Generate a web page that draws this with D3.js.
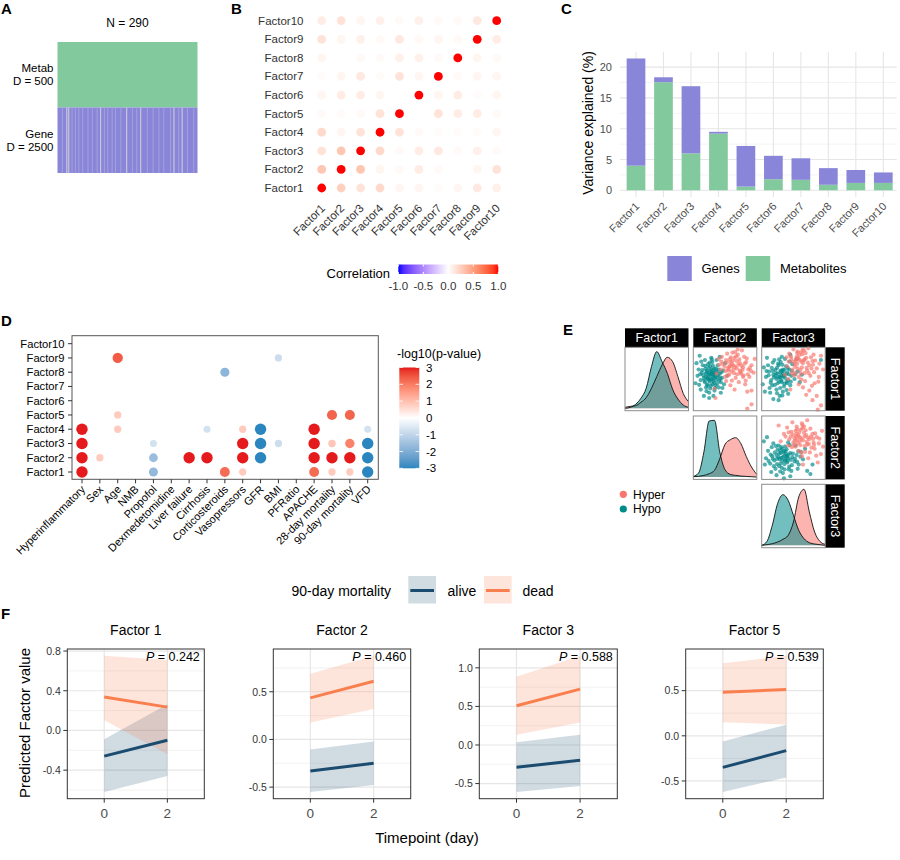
<!DOCTYPE html>
<html><head><meta charset="utf-8">
<script src="https://cdn.jsdelivr.net/npm/d3@7"></script>
<style>body{margin:0;background:#fff} svg{font-family:"Liberation Sans",Arial,Helvetica,sans-serif}</style>
</head><body><svg id="fig" width="900" height="860"></svg>
<script>
// ================= DATA =================
// Panel A
const aSampleCount = 290;
const aViews = ["Metab", "Gene"];
const aDims = [500, 2500];
const aGeneGapsFaint = [9,29,36,43,51,62,71,81,96,103,112,119,130,154,163,185,197,209,219,233,250,268,281];
const aGeneGapsLight = [18,22,88,142,171,240,257];

// Panel B
const factorNames = ["Factor1","Factor2","Factor3","Factor4","Factor5","Factor6","Factor7","Factor8","Factor9","Factor10"];
const corrRows = [
  [1,0.25,0.15,0.2,0.05,0.05,0.02,0.05,0.12,0.08],
  [0.3,1,0.3,0.05,0.03,0.1,0.03,0,0.05,0.15],
  [0.15,0.3,1,0.2,0.03,0.1,0.12,0.03,0.08,0.03],
  [0.2,0.05,0.15,1,0.15,0.03,0.02,0.02,0.02,0.05],
  [0.03,0.02,0.03,0.15,1,0,0.15,0.1,0.1,0.03],
  [0.05,0.1,0.1,0.05,0,1,0.05,0.1,0.02,0.05],
  [0.02,0.05,0.12,0.02,0.15,0.05,1,0.03,0.05,0.05],
  [0.05,0,0.03,0.03,0.08,0.08,0.03,1,0.05,0.03],
  [0.15,0.05,0.08,0.03,0.12,0.03,0.05,0.03,1,0.1],
  [0.1,0.15,0.05,0.08,0.03,0.08,0.03,0.03,0.12,1]
];
const corrTicks = [-1,-0.5,0,0.5,1];

// Panel C
const varGenes = [17.4,0.8,10.9,0.3,6.6,3.8,3.5,2.7,2.1,1.7];
const varMetab = [4.0,17.55,6.0,9.2,0.6,1.8,1.7,0.9,1.2,1.2];
const varTicks = [0,5,10,15,20];
const varKeys = ["Genes","Metabolites"];

// Panel D
const dCovariates = ["Hyperinflammatory","Sex","Age","NMB","Propofol","Dexmedetomidine","Liver failure","Cirrhosis","Corticosteroids","Vasopressors","GFR","BMI","PFRatio","APACHE","28-day mortality","90-day mortality","VFD"];
const dAssoc = [
 ["Factor1","Hyperinflammatory",3],["Factor1","Propofol",-1.7],["Factor1","Corticosteroids",2.2],["Factor1","Vasopressors",0.8],["Factor1","APACHE",2.2],["Factor1","28-day mortality",0.8],["Factor1","90-day mortality",0.8],["Factor1","VFD",-3],
 ["Factor2","Hyperinflammatory",3],["Factor2","Sex",0.8],["Factor2","Propofol",-1.6],["Factor2","Liver failure",3],["Factor2","Cirrhosis",3],["Factor2","Vasopressors",3],["Factor2","GFR",-3],["Factor2","APACHE",3],["Factor2","28-day mortality",3],["Factor2","90-day mortality",3],["Factor2","VFD",-3],
 ["Factor3","Hyperinflammatory",3],["Factor3","Propofol",-0.7],["Factor3","Vasopressors",3],["Factor3","GFR",-3],["Factor3","BMI",-0.8],["Factor3","APACHE",3],["Factor3","28-day mortality",0.9],["Factor3","90-day mortality",1.9],["Factor3","VFD",-3],
 ["Factor4","Hyperinflammatory",3],["Factor4","Age",0.8],["Factor4","Cirrhosis",-0.7],["Factor4","Vasopressors",0.8],["Factor4","GFR",-3],["Factor4","APACHE",3],["Factor4","VFD",-0.7],
 ["Factor5","Age",0.8],["Factor5","28-day mortality",2.3],["Factor5","90-day mortality",2.3],
 ["Factor8","Corticosteroids",-1.8],
 ["Factor9","Age",2.4],["Factor9","BMI",-0.8]
];
const dTicks = [3,2,1,0,-1,-2,-3];

// Panel E
const eFactors = ["Factor1","Factor2","Factor3"];
const eGroups = ["Hyper","Hypo"];
const eGrid = [-3,-2.5,-2,-1.5,-1,-0.5,0,0.5,1,1.5,2,2.5,3];
const eDensHyper = [
 [0.03,0.06,0.08,0.18,0.32,0.6,0.95,1.3,1.53,1.4,0.95,0.45,0.2],
 [0.01,0.02,0.05,0.1,0.2,0.55,0.98,1.12,1.18,1.0,0.62,0.3,0.08],
 [0,0.02,0.05,0.1,0.18,0.3,0.7,1.45,1.68,1.0,0.4,0.12,0.03]
];
const eDensHypo = [
 [0,0.03,0.12,0.3,0.6,1.25,1.7,1.4,1.05,0.57,0.28,0.1,0.03],
 [0.02,0.12,0.75,1.68,1.7,0.75,0.22,0.08,0.05,0.03,0.02,0.01,0],
 [0,0.12,0.6,1.25,1.52,1.35,0.9,0.45,0.2,0.08,0.04,0.02,0]
];
// scatter points [x, y]: (Factor2 vs Factor1), (Factor3 vs Factor1), (Factor3 vs Factor2)
const eHypo12 = [[-1.4,0.4],[-1.2,0.6],[-1.6,0.2],[-1.0,0.3],[-1.8,0.5],[-1.3,0.9],[-1.5,-0.1],[-0.9,0.7],[-2.0,0.1],[-1.1,-0.2],[-1.7,0.8],[-0.7,0.2],[-1.4,1.2],[-2.2,0.6],[-1.2,-0.5],[-0.8,-0.1],[-1.9,-0.3],[-1.0,1.0],[-1.6,1.4],[-0.5,0.5],[-2.3,-0.1],[-1.3,0.0],[-0.6,0.9],[-1.5,0.6],[-1.1,0.4],[-2.5,0.9],[-0.9,-0.6],[-1.8,-0.8],[-0.4,-0.3],[-1.4,-0.9],[-2.1,1.3],[-0.7,1.3],[-1.2,1.6],[-0.3,0.1],[-1.7,-0.5],[-2.6,0.3],[-1.0,-1.1],[-0.6,-0.8],[-1.5,-1.3],[-2.3,-1.0],[-0.2,0.8],[-1.9,1.8],[-0.8,1.8],[-2.7,1.5],[-1.3,2.0],[-0.1,-0.5],[-2.0,-1.6],[-1.1,-1.6],[-0.4,-1.3],[-2.8,-0.4],[0.2,0.3],[-1.6,0.0],[-1.0,0.1],[-1.3,0.5],[-1.8,0.2],[-0.9,0.5],[0.0,1.5],[-2.4,2.2],[-0.5,2.1],[-1.5,-1.8],
 [-1.25,0.25],[-1.55,0.45],[-1.35,0.75],[-1.05,0.55],[-1.65,0.05],[-1.15,0.85],[-1.45,-0.25],[-0.95,0.15],[-1.75,0.65],[-1.25,-0.05],[-1.85,0.95],[-0.85,0.95],[-2.05,0.35],[-1.55,1.05],[-1.05,-0.35],[-1.95,-0.15],[-0.65,0.35],[-1.35,-0.65],[-2.15,0.85],[-0.75,-0.45],[-1.65,-0.65],[-1.15,1.25],[-0.45,0.05],[-2.35,0.45],[-1.45,1.55],[-0.55,-0.15],[-1.85,1.25],[-0.95,-0.85],[-2.45,-0.55],[-0.35,0.65],[-1.25,1.85],[-1.75,-1.15],[-0.25,-0.85],[-2.25,1.65],[-0.75,0.65]];
const eHyper12 = [[0.8,1.3],[0.5,1.6],[1.1,1.0],[0.3,1.1],[1.4,1.5],[0.9,2.0],[0.6,0.7],[1.7,1.1],[0.1,1.8],[1.2,2.3],[0.4,0.4],[2.0,1.6],[-0.2,1.4],[1.5,0.5],[0.7,2.5],[-0.4,0.9],[2.2,0.9],[1.0,0.1],[0.2,2.4],[1.8,2.1],[-0.6,1.9],[2.5,1.3],[1.3,-0.3],[0.0,0.2],[2.3,0.2],[0.5,-0.6],[1.6,2.7],[-0.8,0.5],[2.7,0.6],[1.9,-0.5],[0.9,-1.0],[2.1,-1.2],[2.5,-1.1],[2.1,-2.8],[2.5,-2.4],[0.6,1.2],[1.1,1.7],[0.3,0.8],[1.4,0.8],[-0.3,2.1],[2.8,1.9],[1.2,2.8],[0.1,-0.2],[1.7,0.2],[0.8,0.9],[-0.9,-1.8],[-1.0,-0.9],
 [0.65,1.45],[0.95,1.15],[0.45,1.25],[1.25,1.35],[0.75,1.75],[0.35,0.95],[1.55,1.25],[1.05,2.15],[0.15,1.55],[1.45,0.65],[0.85,0.55],[1.85,1.45],[-0.05,1.15],[1.15,0.45],[0.55,2.05],[2.05,1.95],[0.25,0.35],[1.65,0.85],[-0.35,1.65],[2.35,1.05],[0.95,2.55],[1.35,1.85],[0.45,1.85],[1.75,0.35],[0.05,0.75],[2.15,0.45],[0.65,-0.15],[1.95,-0.15],[2.45,0.75],[-0.55,1.35]];
const eHypo13 = [[-1.3,0.2],[-1.0,0.5],[-1.6,0.0],[-0.8,0.1],[-1.9,0.4],[-1.2,0.8],[-1.5,-0.4],[-0.6,0.6],[-2.1,-0.1],[-1.1,-0.3],[-1.7,0.9],[-0.5,-0.1],[-1.4,1.3],[-2.3,0.7],[-0.9,-0.7],[-0.4,0.9],[-2.0,-0.6],[-1.2,1.6],[-0.2,0.3],[-2.6,0.2],[-1.6,-1.0],[-0.7,1.2],[-1.0,-1.2],[-2.4,1.3],[-0.3,-0.6],[-1.8,1.8],[-2.8,1.1],[-0.1,1.4],[-1.3,-1.6],[-2.2,-1.3],[0.1,0.0],[-0.8,1.9],[-1.9,-1.9],[-0.5,-1.4],[-2.9,-0.5],[0.4,0.7],[-1.1,2.1],[0.6,-0.3],[-2.5,2.0],[-1.5,0.5],[-1.2,0.1],[-0.9,0.3],[-1.7,0.3],[-0.6,-0.4],[0.3,1.9],[-1.4,-2.0],[-2.7,-1.2],[0.8,0.4],[-0.3,2.3],[-1.0,0.9],[2.6,1.8],
 [-1.15,0.35],[-1.45,0.15],[-1.25,0.65],[-0.95,0.25],[-1.65,0.55],[-1.05,0.75],[-1.35,-0.25],[-0.75,0.45],[-1.85,0.15],[-1.15,-0.15],[-1.55,1.05],[-0.65,-0.25],[-1.95,0.75],[-1.45,1.45],[-0.85,-0.45],[-2.15,-0.35],[-0.45,0.45],[-1.25,-0.85],[-2.05,1.05],[-0.55,1.05],[-1.75,-0.55],[-1.05,1.35],[-0.25,-0.25],[-2.35,0.35],[-1.55,-1.35],[-0.85,0.85],[-2.25,-0.85],[-0.15,0.75],[-1.35,1.85],[-0.65,-1.05],[-1.95,1.55],[-2.55,0.75],[0.15,0.45],[-1.05,-1.55],[-0.35,1.65]];
const eHyper13 = [[0.6,1.8],[0.3,2.1],[0.9,1.5],[0.1,1.4],[1.2,2.0],[0.7,2.5],[0.4,1.0],[1.5,1.3],[-0.2,1.9],[1.0,2.7],[0.2,0.6],[1.8,1.7],[-0.4,2.4],[1.3,0.8],[0.8,1.1],[-0.6,1.2],[1.9,2.3],[0.5,0.2],[1.6,0.3],[-0.1,0.9],[2.2,1.0],[1.1,-0.2],[0.0,2.8],[2.0,-0.4],[0.9,-0.8],[2.4,0.2],[1.5,-1.1],[2.2,-1.6],[2.6,-2.5],[2.3,-2.9],[1.8,-2.0],[-0.8,0.4],[0.4,2.6],[1.4,2.9],[2.6,2.2],[0.7,0.5],[1.0,1.8],[0.2,1.7],[1.7,1.0],[-0.5,0.0],[2.8,0.9],[0.5,-0.5],[1.2,-1.5],[-0.3,-1.0],
 [0.45,1.95],[0.75,1.65],[0.25,1.85],[1.05,1.85],[0.55,2.25],[0.15,1.15],[1.35,1.55],[0.85,2.35],[-0.05,1.65],[1.25,1.05],[0.65,0.85],[1.65,2.05],[-0.25,2.15],[1.05,0.55],[0.35,2.45],[1.85,1.35],[0.05,0.35],[1.45,0.55],[-0.45,1.65],[2.05,1.75],[0.85,2.75],[1.15,2.45],[0.35,1.45],[1.95,0.65],[-0.15,0.55],[2.45,1.45],[0.75,-0.05],[1.75,-0.65],[2.35,-0.25],[-0.65,2.05]];
const eHypo23 = [[-1.0,-0.9],[-0.7,-0.6],[-1.3,-1.1],[-0.5,-1.0],[-1.6,-0.7],[-0.9,-0.3],[-1.2,-1.5],[-0.3,-0.5],[-1.8,-1.2],[-0.6,-1.4],[-1.5,-0.2],[-0.1,-0.9],[-2.0,-0.8],[-1.1,-1.9],[-0.4,-1.8],[-2.2,-1.5],[-0.8,0.1],[0.1,-1.3],[-1.7,-2.0],[-1.4,0.2],[-2.4,-0.3],[0.3,-0.7],[-0.2,-2.2],[-1.0,-2.4],[0.5,-1.6],[-2.6,-1.0],[-1.9,0.4],[0.7,-0.4],[-0.5,0.5],[-2.8,0.6],[-2.5,1.0],[0.9,-1.1],[-1.6,-2.6],[-0.3,-2.7],[1.3,-2.2],[1.6,-2.5],[-2.1,-2.3],[0.2,0.2],[-1.2,-0.5],[-0.8,-1.2],[-1.4,-0.9],[-0.6,-0.8],[-1.1,-0.1],[0.4,-2.0],[1.1,-0.1],[-2.7,-1.6],[-0.9,-2.9],[1.8,-1.6],
 [-0.85,-0.75],[-1.15,-0.95],[-0.95,-0.45],[-0.65,-0.85],[-1.35,-0.55],[-0.75,-1.15],[-1.05,-1.25],[-0.45,-0.65],[-1.55,-1.05],[-0.85,-1.55],[-1.25,-0.25],[-0.25,-1.15],[-1.75,-0.45],[-1.35,-1.75],[-0.55,-1.25],[-1.95,-1.05],[-0.65,-0.15],[-0.05,-0.55],[-1.55,-1.55],[-1.15,0.05],[-2.15,-0.65],[0.15,-1.05],[-0.45,-2.05],[-0.85,-2.05],[0.35,-1.35],[-2.35,-1.25],[-1.65,0.15],[0.45,-0.35],[-0.35,0.25],[-1.25,-2.25],[-1.85,-1.75],[-0.15,-1.65],[0.65,-0.85],[-2.05,0.05],[-0.75,-0.35]];
const eHyper23 = [[0.6,1.0],[0.3,1.3],[0.9,0.7],[0.1,0.9],[1.2,1.2],[0.7,1.7],[0.4,0.4],[1.5,0.8],[-0.2,1.5],[1.0,2.0],[0.2,0.1],[1.8,1.3],[-0.4,0.8],[1.3,0.3],[0.8,2.3],[-0.6,1.9],[1.9,0.5],[0.5,-0.3],[1.6,1.8],[-0.1,2.4],[2.2,1.0],[1.1,-0.4],[0.0,0.5],[2.0,-0.1],[0.8,-0.8],[2.4,0.4],[1.4,-1.0],[2.6,-0.6],[2.3,-1.4],[-0.9,1.3],[0.3,2.0],[1.3,2.6],[2.7,1.6],[0.6,0.6],[1.0,1.4],[0.2,1.6],[1.7,0.0],[-0.5,0.2],[2.8,0.1],[-1.2,0.6],[-1.4,2.1],[0.9,-1.6],
 [0.45,1.15],[0.75,0.85],[0.25,1.05],[1.05,1.05],[0.55,1.45],[0.15,0.65],[1.35,0.95],[0.85,1.85],[-0.05,1.25],[1.25,0.55],[0.65,0.25],[1.65,1.05],[-0.25,1.05],[1.05,0.15],[0.35,1.75],[1.85,0.85],[0.05,0.25],[1.45,0.35],[-0.45,1.45],[2.05,1.35],[0.85,2.15],[1.15,1.65],[0.35,0.75],[1.95,0.25],[-0.15,0.05],[2.45,0.85],[0.75,-0.45],[1.55,-0.45],[2.15,-0.75],[-0.75,1.05]];

// Panel F
const fTitles = ["Factor 1","Factor 2","Factor 3","Factor 5"];
const fPvalues = ["0.242","0.460","0.588","0.539"];
const fTimepoints = [0, 2];
const fXTicks = [0, 2];
const fDeadFit   = [[0.336,0.235],[0.436,0.61],[0.509,0.724],[0.483,0.513]];
const fDeadLower = [[0.104,-0.239],[0.178,0.319],[0.134,0.29],[0.149,0.126]];
const fDeadUpper = [[0.752,0.709],[0.69,0.877],[0.885,1.156],[0.803,0.886]];
const fAliveFit   = [[-0.259,-0.098],[-0.33,-0.25],[-0.288,-0.198],[-0.35,-0.164]];
const fAliveLower = [[-0.619,-0.46],[-0.55,-0.479],[-0.608,-0.53],[-0.621,-0.461]];
const fAliveUpper = [[-0.088,0.265],[-0.106,-0.021],[0.035,0.134],[-0.063,0.123]];
const fYTicks = [[-0.4,0,0.4,0.8],[-0.5,0,0.5],[-0.5,0,0.5,1.0],[-0.5,0,0.5]];
const fGroups = ["alive","dead"];

// ================= DRAWING =================
const svg = d3.select("#fig");
const defs = svg.append("defs");
const hy = s => s.replace("\u2212","-");
const fmt1 = v => hy(d3.format(".1f")(v));

// panel letters
[["A",1,14],["B",231,14],["C",561,14],["D",1,326],["E",563,335],["F",1,619]].forEach(([t,x,y])=>{
  svg.append("text").attr("x",x).attr("y",y).attr("font-size",15).attr("font-weight","bold").text(t);
});

// ---------- Panel A ----------
{
  const g = svg.append("g");
  const x = d3.scaleLinear().domain([0,aSampleCount]).range([57.5,197.5]);
  const y = d3.scaleBand().domain(aViews).range([42,173]);
  g.selectAll("rect.blk").data(aViews).join("rect").attr("class","blk")
    .attr("x",x(0)).attr("y",d=>y(d)).attr("width",x(aSampleCount)-x(0)).attr("height",y.bandwidth())
    .attr("fill",d=>d==="Metab"?"#83c99e":"#8985d9");
  g.selectAll("rect.gf").data(aGeneGapsFaint).join("rect").attr("class","gf")
    .attr("x",d=>x(d)).attr("y",y("Gene")).attr("width",1.1).attr("height",y.bandwidth()).attr("fill","#a29fdb");
  g.selectAll("rect.gl").data(aGeneGapsLight).join("rect").attr("class","gl")
    .attr("x",d=>x(d)).attr("y",y("Gene")).attr("width",1.2).attr("height",y.bandwidth()).attr("fill","#c9c5d8");
  g.append("text").attr("x",x(aSampleCount/2)).attr("y",27).attr("text-anchor","middle").attr("font-size",12).text("N = "+aSampleCount);
  aViews.forEach((v,i)=>{
    const m = y(v)+y.bandwidth()/2;
    g.append("text").attr("x",53.5).attr("y",m-2.5).attr("text-anchor","end").attr("font-size",11.5).text(v);
    g.append("text").attr("x",53.5).attr("y",m+10.5).attr("text-anchor","end").attr("font-size",11.5).text("D = "+aDims[i]);
  });
}

// ---------- Panel B ----------
{
  const g = svg.append("g");
  const x = d3.scalePoint().domain(factorNames).range([321.7,496.7]);
  const y = d3.scalePoint().domain(factorNames).range([188,20.7]);
  const col = d3.scaleLinear().domain([-1,0,1]).range(["#0000ff","#ffffff","#ff0000"]).interpolate(d3.interpolateLab);
  const cells = [];
  corrRows.forEach((row,i)=>row.forEach((v,j)=>cells.push({r:factorNames[i],c:factorNames[j],v})));
  g.selectAll("circle").data(cells).join("circle")
    .attr("cx",d=>x(d.c)).attr("cy",d=>y(d.r)).attr("r",4.4).attr("fill",d=>col(d.v));
  g.selectAll("text.rl").data(factorNames).join("text").attr("class","rl")
    .attr("x",303.5).attr("y",d=>y(d)+4).attr("text-anchor","end").attr("font-size",11.5).attr("fill","#333").text(d=>d);
  g.selectAll("text.cl").data(factorNames).join("text").attr("class","cl")
    .attr("text-anchor","end").attr("font-size",11.5).attr("fill","#333")
    .attr("transform",d=>`translate(${x(d)+4},${209}) rotate(-45)`).text(d=>d);
  // legend
  g.append("text").attr("x",326.5).attr("y",278).attr("font-size",13).text("Correlation");
  const lx = d3.scaleLinear().domain([-1,1]).range([398.3,498.3]);
  const grad = defs.append("linearGradient").attr("id","gB");
  d3.range(0,1.0001,0.05).forEach(t=>grad.append("stop").attr("offset",t).attr("stop-color",col(-1+2*t)));
  g.append("rect").attr("x",lx(-1)).attr("y",264.5).attr("width",lx(1)-lx(-1)).attr("height",9.5).attr("fill","url(#gB)");
  corrTicks.forEach(t=>{
    g.append("line").attr("x1",lx(t)).attr("x2",lx(t)).attr("y1",264.5).attr("y2",266.5).attr("stroke","#fff");
    g.append("line").attr("x1",lx(t)).attr("x2",lx(t)).attr("y1",272).attr("y2",274).attr("stroke","#fff");
    g.append("text").attr("x",lx(t)).attr("y",290).attr("text-anchor","middle").attr("font-size",11.5).attr("fill","#333").text(fmt1(t));
  });
}

// ---------- Panel C ----------
{
  const g = svg.append("g");
  const rows = factorNames.map((f,i)=>({f,Genes:varGenes[i],Metabolites:varMetab[i]}));
  const totals = rows.map(r=>r.Genes+r.Metabolites);
  const mx = d3.max(totals), pad = mx*0.05;
  const x = d3.scalePoint().domain(factorNames).range([636,883.3]);
  const y = d3.scaleLinear().domain([-pad,mx+pad]).range([196.9,51.9]);
  const x0 = 620, x1 = 896.7;
  varTicks.forEach(t=>{
    const m = t+2.5; if (m < mx+pad) g.append("line").attr("x1",x0).attr("x2",x1).attr("y1",y(m)).attr("y2",y(m)).attr("stroke","#ededed").attr("stroke-width",0.6);
  });
  varTicks.forEach(t=>g.append("line").attr("x1",x0).attr("x2",x1).attr("y1",y(t)).attr("y2",y(t)).attr("stroke","#e6e6e6").attr("stroke-width",1.1));
  factorNames.forEach(f=>g.append("line").attr("x1",x(f)).attr("x2",x(f)).attr("y1",y(-pad)).attr("y2",y(mx+pad)).attr("stroke","#e6e6e6").attr("stroke-width",1.1));
  const stack = d3.stack().keys(["Metabolites","Genes"])(rows);
  const colors = {Genes:"#8985d9", Metabolites:"#83c99e"};
  const bw = 18.7;
  stack.forEach(layer=>{
    g.selectAll(null).data(layer).join("rect")
      .attr("x",d=>x(d.data.f)-bw/2).attr("width",bw)
      .attr("y",d=>y(d[1])).attr("height",d=>y(d[0])-y(d[1]))
      .attr("fill",colors[layer.key]);
  });
  varTicks.forEach(t=>g.append("text").attr("x",612).attr("y",y(t)+4).attr("text-anchor","end").attr("font-size",11).attr("fill","#4d4d4d").text(t));
  factorNames.forEach(f=>g.append("text").attr("text-anchor","end").attr("font-size",11).attr("fill","#4d4d4d")
    .attr("transform",`translate(${x(f)+4},${207}) rotate(-45)`).text(f));
  g.append("text").attr("transform","translate(593,123) rotate(-90)").attr("text-anchor","middle").attr("font-size",14).text("Variance explained (%)");
  varKeys.forEach((k,i)=>{
    const rx = [667.3,745.7][i], tx = [701.5,780][i];
    g.append("rect").attr("x",rx).attr("y",256).attr("width",24.5).attr("height",25).attr("fill",colors[k]);
    g.append("text").attr("x",tx).attr("y",273).attr("font-size",13).text(k);
  });
}

// ---------- Panel D ----------
{
  const g = svg.append("g");
  const x = d3.scalePoint().domain(dCovariates).range([82,367.7]);
  const y = d3.scalePoint().domain(factorNames).range([472,343.7]);
  const col = d3.scaleLinear().domain([-3,0,3]).range(["#2b86bf","#ffffff","#e41a1c"]).interpolate(d3.interpolateLab);
  const rs = d3.scaleLinear().domain([0,3]).range([2.9,5.7]);
  const bx0=72, bx1=378.3, by0=335.7, by1=479.3;
  g.selectAll("circle").data(dAssoc).join("circle")
    .attr("cx",d=>x(d[1])).attr("cy",d=>y(d[0])).attr("r",d=>rs(Math.abs(d[2]))).attr("fill",d=>col(d[2]));
  g.append("rect").attr("x",bx0).attr("y",by0).attr("width",bx1-bx0).attr("height",by1-by0).attr("fill","none").attr("stroke","#555").attr("stroke-width",1);
  factorNames.forEach(f=>{
    g.append("line").attr("x1",bx0-4).attr("x2",bx0).attr("y1",y(f)).attr("y2",y(f)).attr("stroke","#333");
    g.append("text").attr("x",bx0-7.5).attr("y",y(f)+4).attr("text-anchor","end").attr("font-size",11.2).text(f);
  });
  dCovariates.forEach(c=>{
    g.append("line").attr("x1",x(c)).attr("x2",x(c)).attr("y1",by1).attr("y2",by1+4).attr("stroke","#333");
    g.append("text").attr("text-anchor","end").attr("font-size",11).attr("transform",`translate(${x(c)+4},${490}) rotate(-45)`).text(c);
  });
  g.append("text").attr("x",397).attr("y",357.5).attr("font-size",12.5).text("-log10(p-value)");
  const ly = d3.scaleLinear().domain([3,-3]).range([367.5,468.3]);
  const grad = defs.append("linearGradient").attr("id","gD").attr("x1",0).attr("x2",0).attr("y1",0).attr("y2",1);
  d3.range(0,1.0001,0.05).forEach(t=>grad.append("stop").attr("offset",t).attr("stop-color",col(3-6*t)));
  g.append("rect").attr("x",399.3).attr("y",ly(3)).attr("width",20).attr("height",ly(-3)-ly(3)).attr("fill","url(#gD)");
  dTicks.forEach(t=>{
    g.append("line").attr("x1",399.3).attr("x2",403).attr("y1",ly(t)).attr("y2",ly(t)).attr("stroke","#fff").attr("stroke-opacity",0.8);
    g.append("line").attr("x1",415.6).attr("x2",419.3).attr("y1",ly(t)).attr("y2",ly(t)).attr("stroke","#fff").attr("stroke-opacity",0.8);
    g.append("text").attr("x",426).attr("y",ly(t)+4).attr("font-size",11.5).text(t);
  });
}

// ---------- Panel E ----------
{
  const g = svg.append("g");
  const colX = [625, 693.3, 761.7], rowY = [347.3, 416, 484.3], W = 63.5, H = 63.4;
  const cHyper = "#f8766d", cHypo = "#008b8b";
  const border = (x0,y0)=>g.append("rect").attr("x",x0).attr("y",y0).attr("width",W).attr("height",H).attr("fill","none").attr("stroke","#8c8c8c").attr("stroke-width",1);
  eFactors.forEach((f,i)=>{
    g.append("rect").attr("x",colX[i]).attr("y",328.3).attr("width",W).attr("height",19).attr("fill","#000");
    g.append("text").attr("x",colX[i]+W/2).attr("y",342.3).attr("text-anchor","middle").attr("fill","#fff").attr("font-size",12.5).text(f);
    g.append("rect").attr("x",825.2).attr("y",rowY[i]).attr("width",19.5).attr("height",H).attr("fill","#000");
    g.append("text").attr("transform",`translate(830.5,${rowY[i]+H/2}) rotate(90)`).attr("text-anchor","middle").attr("fill","#fff").attr("font-size",12.5).text(f);
  });
  eFactors.forEach((f,i)=>{
    const x = d3.scaleLinear().domain([eGrid[0],eGrid[eGrid.length-1]]).range([colX[i],colX[i]+W]);
    const y = d3.scaleLinear().domain([-0.07,1.83]).range([rowY[i]+H,rowY[i]]);
    const area = d3.area().x((d,k)=>x(eGrid[k])).y0(y(0)).y1(d=>y(d)).curve(d3.curveMonotoneX);
    const line = d3.line().x((d,k)=>x(eGrid[k])).y(d=>y(d)).curve(d3.curveMonotoneX);
    [[eDensHyper[i],cHyper],[eDensHypo[i],cHypo]].forEach(([dd,c])=>{
      g.append("path").attr("d",area(dd)).attr("fill",c).attr("fill-opacity",0.55);
    });
    [eDensHyper[i],eDensHypo[i]].forEach(dd=>g.append("path").attr("d",line(dd)).attr("fill","none").attr("stroke","#111").attr("stroke-width",0.9));
    border(colX[i],rowY[i]);
  });
  [[eHyper12,eHypo12,1,0],[eHyper13,eHypo13,2,0],[eHyper23,eHypo23,2,1]].forEach(([hyper,hypo,ci,ri])=>{
    const x = d3.scaleLinear().domain([-3,3]).range([colX[ci],colX[ci]+W]);
    const y = d3.scaleLinear().domain([-3,3]).range([rowY[ri]+H,rowY[ri]]);
    [[hypo,cHypo],[hyper,cHyper]].forEach(([pts,c])=>{
      g.selectAll(null).data(pts).join("circle").attr("cx",d=>x(d[0])).attr("cy",d=>y(d[1])).attr("r",2.1).attr("fill",c).attr("fill-opacity",0.68);
    });
    border(colX[ci],rowY[ri]);
  });
  eGroups.forEach((grp,i)=>{
    g.append("circle").attr("cx",623.3).attr("cy",494.3+i*14.7).attr("r",3.6).attr("fill",grp==="Hyper"?cHyper:cHypo);
    g.append("text").attr("x",633).attr("y",498.5+i*14.7).attr("font-size",12).text(grp);
  });
}

// ---------- Panel F ----------
{
  const g = svg.append("g");
  const fXDomain = [-1.17, 3.17];
  const boxX = [[67.3,204.3],[273.3,410.7],[479.3,617.3],[685.7,823.3]];
  const top = 649, bot = 798.7;
  const cAlive = "#1b4b6f", cDead = "#fa7f4f";
  fTitles.forEach((title,i)=>{
    const x = d3.scaleLinear().domain(fXDomain).range(boxX[i]);
    const all = fDeadLower[i].concat(fDeadUpper[i],fAliveLower[i],fAliveUpper[i]);
    const [mn,mx] = d3.extent(all), pad = (mx-mn)*0.05;
    const y = d3.scaleLinear().domain([mn-pad,mx+pad]).range([bot,top]);
    const [xa,xb] = boxX[i];
    const ticks = fYTicks[i], step = ticks[1]-ticks[0];
    const minor = ticks.map(t=>t-step/2).concat([ticks[ticks.length-1]+step/2]).filter(v=>v>mn-pad && v<mx+pad);
    minor.forEach(v=>g.append("line").attr("x1",xa).attr("x2",xb).attr("y1",y(v)).attr("y2",y(v)).attr("stroke","#ececec").attr("stroke-width",0.7));
    ticks.forEach(v=>g.append("line").attr("x1",xa).attr("x2",xb).attr("y1",y(v)).attr("y2",y(v)).attr("stroke","#e6e6e6").attr("stroke-width",1.2));
    fXTicks.forEach(v=>g.append("line").attr("x1",x(v)).attr("x2",x(v)).attr("y1",top).attr("y2",bot).attr("stroke","#e6e6e6").attr("stroke-width",1.2));
    const groups = [
      {k:"alive", fit:fAliveFit[i], lo:fAliveLower[i], hi:fAliveUpper[i], c:cAlive},
      {k:"dead", fit:fDeadFit[i], lo:fDeadLower[i], hi:fDeadUpper[i], c:cDead}
    ];
    groups.forEach(gr=>{
      const tbl = fTimepoints.map((t,k)=>({t,lo:gr.lo[k],hi:gr.hi[k]}));
      g.append("path").attr("d",d3.area().x(d=>x(d.t)).y0(d=>y(d.lo)).y1(d=>y(d.hi))(tbl)).attr("fill",gr.c).attr("fill-opacity",0.2);
    });
    groups.forEach(gr=>{
      const tbl = fTimepoints.map((t,k)=>({t,fit:gr.fit[k]}));
      g.append("path").attr("d",d3.line().x(d=>x(d.t)).y(d=>y(d.fit))(tbl)).attr("fill","none").attr("stroke",gr.c).attr("stroke-width",3);
    });
    g.append("rect").attr("x",xa).attr("y",top).attr("width",xb-xa).attr("height",bot-top).attr("fill","none").attr("stroke","#333").attr("stroke-width",1);
    ticks.forEach(v=>{
      g.append("line").attr("x1",xa-4).attr("x2",xa).attr("y1",y(v)).attr("y2",y(v)).attr("stroke","#333");
      g.append("text").attr("x",xa-6.5).attr("y",y(v)+3.8).attr("text-anchor","end").attr("font-size",10.5).attr("fill","#333").text(fmt1(v));
    });
    fXTicks.forEach(v=>{
      g.append("line").attr("x1",x(v)).attr("x2",x(v)).attr("y1",bot).attr("y2",bot+4).attr("stroke","#333");
      g.append("text").attr("x",x(v)).attr("y",818).attr("text-anchor","middle").attr("font-size",13.5).attr("fill","#4d4d4d").text(v);
    });
    g.append("text").attr("x",(xa+xb)/2).attr("y",635).attr("text-anchor","middle").attr("font-size",14).text(title);
    const pt = g.append("text").attr("x",xb-4.5).attr("y",660.5).attr("text-anchor","end").attr("font-size",12.5);
    pt.append("tspan").attr("font-style","italic").text("P");
    pt.append("tspan").text(" = "+fPvalues[i]);
  });
  g.append("text").attr("transform","translate(29.5,723) rotate(-90)").attr("text-anchor","middle").attr("font-size",15).text("Predicted Factor value");
  g.append("text").attr("x",427).attr("y",843).attr("text-anchor","middle").attr("font-size",15).text("Timepoint (day)");
  g.append("text").attr("x",291.5).attr("y",595.5).attr("font-size",14).text("90-day mortality");
  fGroups.forEach((k,i)=>{
    const rx = [408.3,484][i], tx = [447.5,522.5][i], c = k==="alive"?cAlive:cDead;
    g.append("rect").attr("x",rx).attr("y",576).attr("width",27.7).attr("height",27.5).attr("fill",c).attr("fill-opacity",0.2);
    g.append("line").attr("x1",rx+2).attr("x2",rx+25.7).attr("y1",590.5).attr("y2",590.5).attr("stroke",c).attr("stroke-width",3);
    g.append("text").attr("x",tx).attr("y",595.5).attr("font-size",14).text(k);
  });
}
</script></body></html>
